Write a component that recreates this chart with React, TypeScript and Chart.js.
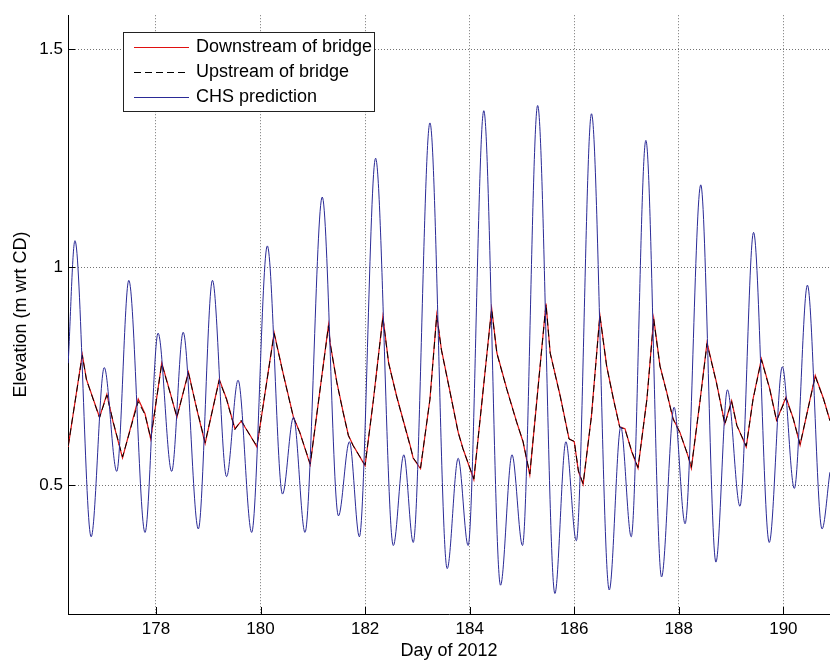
import React, { useEffect, useRef } from 'react';
import { Chart, registerables } from 'chart.js';

Chart.register(...registerables);

// ---- Data ----
const chsDays = [
  176.32, 176.45, 176.76, 177.01, 177.25, 177.48, 177.79, 178.04, 178.30, 178.52,
  178.81, 179.08, 179.35, 179.57, 179.83, 180.13, 180.42, 180.63, 180.85, 181.18,
  181.49, 181.70, 181.89, 182.20, 182.54, 182.74, 182.92, 183.24, 183.57, 183.78,
  183.97, 184.27, 184.59, 184.81, 185.01, 185.30, 185.63, 185.84, 186.04, 186.33,
  186.67, 186.89, 187.09, 187.37, 187.67, 187.91, 188.12, 188.42, 188.71, 188.93,
  189.17, 189.43, 189.73, 189.98, 190.21, 190.46, 190.74, 190.89,
];
const chsElev = [
  0.78, 1.061, 0.382, 0.770, 0.532, 0.970, 0.392, 0.849, 0.532, 0.851,
  0.400, 0.970, 0.520, 0.741, 0.392, 1.049, 0.480, 0.656, 0.392, 1.161,
  0.430, 0.600, 0.382, 1.250, 0.362, 0.570, 0.369, 1.331, 0.309, 0.562,
  0.362, 1.359, 0.271, 0.570, 0.362, 1.371, 0.252, 0.600, 0.373, 1.352,
  0.260, 0.634, 0.382, 1.291, 0.290, 0.679, 0.412, 1.189, 0.324, 0.719,
  0.452, 1.080, 0.369, 0.772, 0.493, 0.959, 0.400, 0.53,
];

const obsDays = [
  176.32, 176.59, 176.67, 176.92, 177.06, 177.18, 177.36, 177.66, 177.79, 177.90,
  178.11, 178.27, 178.40, 178.62, 178.78, 178.94, 179.21, 179.35, 179.51, 179.63,
  179.80, 179.93, 180.26, 180.43, 180.63, 180.75, 180.95, 181.30, 181.33, 181.46,
  181.58, 181.68, 181.77, 181.97, 182.00, 182.16, 182.34, 182.45, 182.60, 182.67,
  182.86, 182.92, 183.06, 183.24, 183.37, 183.46, 183.62, 183.78, 183.87, 184.08,
  184.42, 184.52, 184.71, 184.90, 185.02, 185.15, 185.46, 185.54, 185.73, 185.90,
  186.00, 186.08, 186.17, 186.33, 186.49, 186.62, 186.75, 186.87, 186.97, 187.10,
  187.22, 187.39, 187.52, 187.64, 187.77, 187.89, 188.02, 188.18, 188.24, 188.41,
  188.54, 188.72, 188.88, 189.01, 189.11, 189.29, 189.42, 189.58, 189.74, 189.87,
  190.05, 190.19, 190.32, 190.61, 190.77, 190.89,
];
const downstreamElev = [
  0.588, 0.800, 0.743, 0.656, 0.709, 0.645, 0.563, 0.698, 0.664, 0.606,
  0.781, 0.713, 0.656, 0.760, 0.675, 0.596, 0.743, 0.698, 0.630, 0.647,
  0.615, 0.588, 0.850, 0.758, 0.656, 0.622, 0.547, 0.868, 0.827, 0.736,
  0.668, 0.615, 0.592, 0.551, 0.545, 0.698, 0.887, 0.781, 0.706, 0.675,
  0.592, 0.562, 0.538, 0.698, 0.891, 0.811, 0.717, 0.622, 0.585, 0.513,
  0.906, 0.804, 0.721, 0.645, 0.600, 0.524, 0.917, 0.804, 0.706, 0.607,
  0.600, 0.532, 0.502, 0.660, 0.891, 0.774, 0.698, 0.634, 0.630, 0.577,
  0.539, 0.698, 0.883, 0.774, 0.713, 0.653, 0.622, 0.566, 0.539, 0.698,
  0.827, 0.736, 0.641, 0.694, 0.638, 0.588, 0.698, 0.790, 0.721, 0.649,
  0.702, 0.653, 0.592, 0.752, 0.698, 0.649,
];
const upstreamElev = [
  0.590, 0.798, 0.742, 0.655, 0.707, 0.646, 0.565, 0.692, 0.662, 0.608,
  0.779, 0.712, 0.657, 0.758, 0.676, 0.598, 0.741, 0.697, 0.628, 0.649,
  0.614, 0.590, 0.848, 0.757, 0.655, 0.621, 0.549, 0.866, 0.826, 0.735,
  0.667, 0.614, 0.591, 0.552, 0.547, 0.697, 0.885, 0.780, 0.705, 0.674,
  0.591, 0.563, 0.540, 0.697, 0.889, 0.810, 0.716, 0.621, 0.584, 0.515,
  0.904, 0.803, 0.720, 0.644, 0.601, 0.526, 0.915, 0.803, 0.705, 0.606,
  0.601, 0.533, 0.504, 0.659, 0.889, 0.773, 0.697, 0.633, 0.629, 0.578,
  0.541, 0.697, 0.881, 0.773, 0.712, 0.652, 0.621, 0.567, 0.541, 0.697,
  0.825, 0.735, 0.640, 0.692, 0.637, 0.590, 0.697, 0.788, 0.720, 0.648,
  0.700, 0.652, 0.594, 0.750, 0.697, 0.648,
];

const xTickValues = [178, 180, 182, 184, 186, 188, 190];
const yTickValues = [0.5, 1, 1.5];
const seriesLabels = ['Downstream of bridge', 'Upstream of bridge', 'CHS prediction'];
const xTitle = 'Day of 2012';
const yTitle = 'Elevation (m wrt CD)';

// ---- Styles / layout ----
const X_MIN = 176.317;
const X_MAX = 190.892;
const Y_MIN = 0.205;
const Y_MAX = 1.578;
const FONT = "'Liberation Sans', Arial, Helvetica, sans-serif";
const BLUE = '#2a2a96';
const RED = '#e01010';
const BLACK = '#000000';
const DASH = [7, 4];

const legendStyles = [
  { color: RED, dashed: false },
  { color: BLACK, dashed: true },
  { color: BLUE, dashed: false },
];

const innerTicksPlugin = {
  id: 'innerTicks',
  afterDatasetsDraw(chart: any) {
    const { ctx, chartArea, scales } = chart;
    const len = 7;
    ctx.save();
    ctx.fillStyle = '#000';
    scales.x.ticks.forEach((t: any) => {
      const px = Math.round(scales.x.getPixelForValue(t.value));
      ctx.fillRect(px, chartArea.bottom - len, 1, len);
    });
    scales.y.ticks.forEach((t: any) => {
      const py = Math.round(scales.y.getPixelForValue(t.value));
      ctx.fillRect(chartArea.left, py, len, 1);
    });
    ctx.restore();
  },
};

const insetLegendPlugin = {
  id: 'insetLegend',
  afterDraw(chart: any) {
    const { ctx } = chart;
    const bx = 123, by = 32, bw = 252, bh = 80;
    ctx.save();
    ctx.fillStyle = '#222';
    ctx.fillRect(bx, by, bw, bh);
    ctx.fillStyle = '#fff';
    ctx.fillRect(bx + 1, by + 1, bw - 2, bh - 2);
    ctx.font = `18px ${FONT}`;
    ctx.textBaseline = 'middle';
    ctx.textAlign = 'left';
    seriesLabels.forEach((label, i) => {
      const st = legendStyles[i];
      const y = 47 + i * 25;
      ctx.fillStyle = st.color;
      if (st.dashed) {
        for (let x = 134; x < 189; x += DASH[0] + DASH[1]) {
          ctx.fillRect(x, y, Math.min(DASH[0], 189 - x), 1);
        }
      } else {
        ctx.fillRect(134, y, 55, 1);
      }
      ctx.fillStyle = '#000';
      ctx.fillText(label, 196, y + 0.5);
    });
    ctx.restore();
  },
};

export default function App() {
  const canvasRef = useRef<HTMLCanvasElement>(null);

  useEffect(() => {
    const canvas = canvasRef.current;
    if (!canvas) return;
    const toPts = (xs: number[], ys: number[]) => xs.map((x, i) => ({ x, y: ys[i] }));

    const chart = new Chart(canvas, {
      type: 'line',
      data: {
        datasets: [
          {
            label: seriesLabels[2],
            data: toPts(chsDays, chsElev),
            borderColor: BLUE,
            borderWidth: 1,
            pointRadius: 0,
            cubicInterpolationMode: 'monotone',
            order: 0,
          },
          {
            label: seriesLabels[1],
            data: toPts(obsDays, upstreamElev),
            borderColor: BLACK,
            borderDash: DASH,
            borderWidth: 1,
            pointRadius: 0,
            tension: 0,
            order: 1,
          },
          {
            label: seriesLabels[0],
            data: toPts(obsDays, downstreamElev),
            borderColor: RED,
            borderWidth: 1.2,
            pointRadius: 0,
            tension: 0,
            order: 2,
          },
        ],
      } as any,
      options: {
        responsive: false,
        animation: false,
        devicePixelRatio: 1,
        layout: { padding: { left: 0, top: 8, right: 0, bottom: 0 } },
        plugins: {
          legend: { display: false },
          tooltip: { enabled: false },
        },
        scales: {
          x: {
            type: 'linear',
            min: X_MIN,
            max: X_MAX,
            afterBuildTicks: (s: any) => {
              s.ticks = xTickValues.map((v) => ({ value: v }));
            },
            afterFit: (s: any) => {
              s.height = 50;
            },
            ticks: {
              color: '#000',
              font: { family: FONT, size: 17 },
              padding: 5,
              maxRotation: 0,
              callback: (v: any) => String(v),
            },
            grid: {
              color: 'rgba(0,0,0,0.55)',
              lineWidth: 1,
              drawTicks: false,
            },
            border: { display: true, color: '#000', width: 1, dash: [1, 2] },
            title: {
              display: true,
              text: xTitle,
              color: '#000',
              font: { family: FONT, size: 18, lineHeight: 1.2 },
              padding: { top: 0, bottom: 1.7 },
            },
          },
          y: {
            type: 'linear',
            min: Y_MIN,
            max: Y_MAX,
            afterBuildTicks: (s: any) => {
              s.ticks = yTickValues.map((v) => ({ value: v }));
            },
            afterFit: (s: any) => {
              s.width = 68;
            },
            ticks: {
              color: '#000',
              font: { family: FONT, size: 17 },
              padding: 5,
              callback: (v: any) => String(v),
            },
            grid: {
              color: 'rgba(0,0,0,0.55)',
              lineWidth: 1,
              drawTicks: false,
            },
            border: { display: true, color: '#000', width: 1, dash: [1, 2] },
            title: {
              display: true,
              text: yTitle,
              color: '#000',
              font: { family: FONT, size: 18, lineHeight: 1.2 },
              padding: { top: 10.7, bottom: 0 },
            },
          },
        },
      } as any,
      plugins: [innerTicksPlugin, insetLegendPlugin],
    });

    return () => chart.destroy();
  }, []);

  return (
    <div
      style={{
        position: 'absolute',
        left: 0,
        top: 0,
        width: 830,
        height: 664,
        background: '#fff',
      }}
    >
      <canvas ref={canvasRef} width={830} height={664} style={{ display: 'block' }} />
    </div>
  );
}
